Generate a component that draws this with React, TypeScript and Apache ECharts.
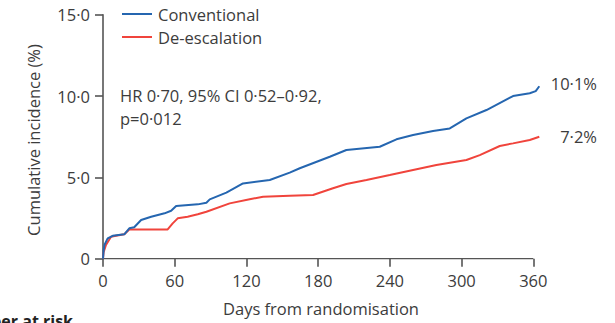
import React, { useEffect, useRef } from "react";
import * as echarts from "echarts";

const xTicks = [0, 60, 120, 180, 240, 300, 360];
const yTicks = [0, 5, 10, 15];
const xDataEnd = 366;

const conventional: [number, number][] = [
  [0, 0], [0.5, 0.5], [1.2, 0.84], [3.9, 1.25], [8.1, 1.41], [17.8, 1.5], [22, 1.87],
  [26.1, 1.93], [31.9, 2.38], [40.3, 2.58], [51.5, 2.79], [57, 2.95], [61.2, 3.24],
  [79.3, 3.34], [86.5, 3.44], [89.3, 3.65], [103.2, 4.06], [117.1, 4.63], [139.5, 4.84],
  [156.2, 5.29], [164.6, 5.56], [189.7, 6.27], [203.6, 6.68], [231.5, 6.88], [245.5, 7.34],
  [259.4, 7.6], [276.1, 7.85], [290.1, 8.01], [304, 8.63], [320.8, 9.14], [343, 10.0],
  [357, 10.17], [362, 10.3], [365, 10.6],
];

const deescalation: [number, number][] = [
  [0, 0], [0.5, 0.4], [2.5, 0.84], [6.7, 1.35], [10.9, 1.41], [17.8, 1.5], [22, 1.8],
  [54.1, 1.8], [58.3, 2.17], [62.5, 2.48], [70.8, 2.58], [79.3, 2.73], [86.5, 2.89],
  [106, 3.4], [122.7, 3.65], [133.9, 3.81], [156.2, 3.87], [175.7, 3.92], [192.4, 4.33],
  [203.6, 4.59], [220.4, 4.84], [239.9, 5.14], [259.4, 5.45], [278.9, 5.76], [304, 6.07],
  [315.2, 6.37], [331.9, 6.93], [343, 7.09], [357, 7.3], [365, 7.5],
];

const seriesNames = ["Conventional", "De-escalation"];
const endLabels = ["10·1%", "7·2%"];
const annotation = ["HR 0·70, 95% CI 0·52–0·92,", "p=0·012"];

const BLUE = "#2566b0";
const RED = "#f0443c";
const TEXT = "#3c3c3c";
const AXIS = "#555555";
const FONT = "'Open Sans', sans-serif";
const FS = 16.5;

export default function App() {
  const ref = useRef<HTMLDivElement>(null);
  useEffect(() => {
    if (!ref.current) return;
    const chart = echarts.init(ref.current, null, { renderer: "svg" });
    const fmt = (v: number) => (v === 0 ? "0" : v.toFixed(1).replace(".", "·"));
    const txt = (x: number, y: number, text: string, extra: any = {}) => ({
      type: "text",
      x,
      y,
      style: {
        text,
        fill: TEXT,
        font: `${FS}px ${FONT}`,
        verticalAlign: "middle",
        ...extra,
      },
    });
    chart.setOption({
      animation: false,
      backgroundColor: "#ffffff",
      grid: {
        left: 103,
        right: 74.5,
        top: 14.7,
        bottom: 64.3,
        containLabel: false,
        outerBoundsMode: "none",
      },
      xAxis: {
        type: "value",
        min: xTicks[0],
        max: xDataEnd,
        interval: 60,
        axisLine: { show: false },
        axisTick: {
          show: true,
          length: 8,
          customValues: xTicks,
          lineStyle: { color: AXIS, width: 1.6 },
        },
        axisLabel: {
          color: TEXT,
          fontFamily: FONT,
          fontSize: FS,
          margin: 13,
          customValues: xTicks,
          formatter: (v: number) => (xTicks.includes(v) ? String(v) : ""),
        },
        splitLine: { show: false },
      },
      yAxis: {
        type: "value",
        min: yTicks[0],
        max: yTicks[yTicks.length - 1],
        interval: 5,
        axisLine: { show: true, onZero: false, lineStyle: { color: AXIS, width: 1.6 } },
        axisTick: { show: true, length: 8, lineStyle: { color: AXIS, width: 1.6 } },
        axisLabel: {
          color: TEXT,
          fontFamily: FONT,
          fontSize: FS,
          margin: 13,
          formatter: fmt,
        },
        splitLine: { show: false },
      },
      series: [
        {
          name: seriesNames[0],
          type: "line",
          data: conventional,
          showSymbol: false,
          lineStyle: { color: BLUE, width: 2 },
          z: 3,
        },
        {
          name: seriesNames[1],
          type: "line",
          data: deescalation,
          showSymbol: false,
          lineStyle: { color: RED, width: 2 },
          z: 2,
        },
        {
          name: "x-axis-line",
          type: "line",
          data: [[xTicks[0], 0], [xTicks[xTicks.length - 1], 0]],
          showSymbol: false,
          silent: true,
          lineStyle: { color: AXIS, width: 1.6 },
          z: 1,
        },
      ],
      graphic: [
        { type: "line", shape: { x1: 122, y1: 14, x2: 152, y2: 14 }, style: { stroke: BLUE, lineWidth: 2 } },
        txt(158, 14, seriesNames[0]),
        { type: "line", shape: { x1: 122, y1: 37, x2: 152, y2: 37 }, style: { stroke: RED, lineWidth: 2 } },
        txt(158, 37, seriesNames[1]),
        txt(120, 95, annotation[0]),
        txt(120, 118, annotation[1]),
        txt(597, 83, endLabels[0], { align: "right" }),
        txt(597, 136.5, endLabels[1], { align: "right" }),
        txt(321, 308, "Days from randomisation", { align: "center" }),
        {
          type: "text",
          x: 33,
          y: 140,
          rotation: Math.PI / 2,
          style: {
            text: "Cumulative incidence (%)",
            fill: TEXT,
            font: `${FS}px ${FONT}`,
            align: "center",
            verticalAlign: "middle",
          },
        },
        {
          type: "text",
          x: -48,
          y: 313,
          style: {
            text: "Number at risk",
            fill: "#222222",
            font: `bold 16px ${FONT}`,
            verticalAlign: "top",
          },
        },
      ],
    });
    return () => chart.dispose();
  }, []);
  return (
    <div
      ref={ref}
      style={{ position: "fixed", left: 0, top: 0, width: 615, height: 323, background: "#fff" }}
    />
  );
}
